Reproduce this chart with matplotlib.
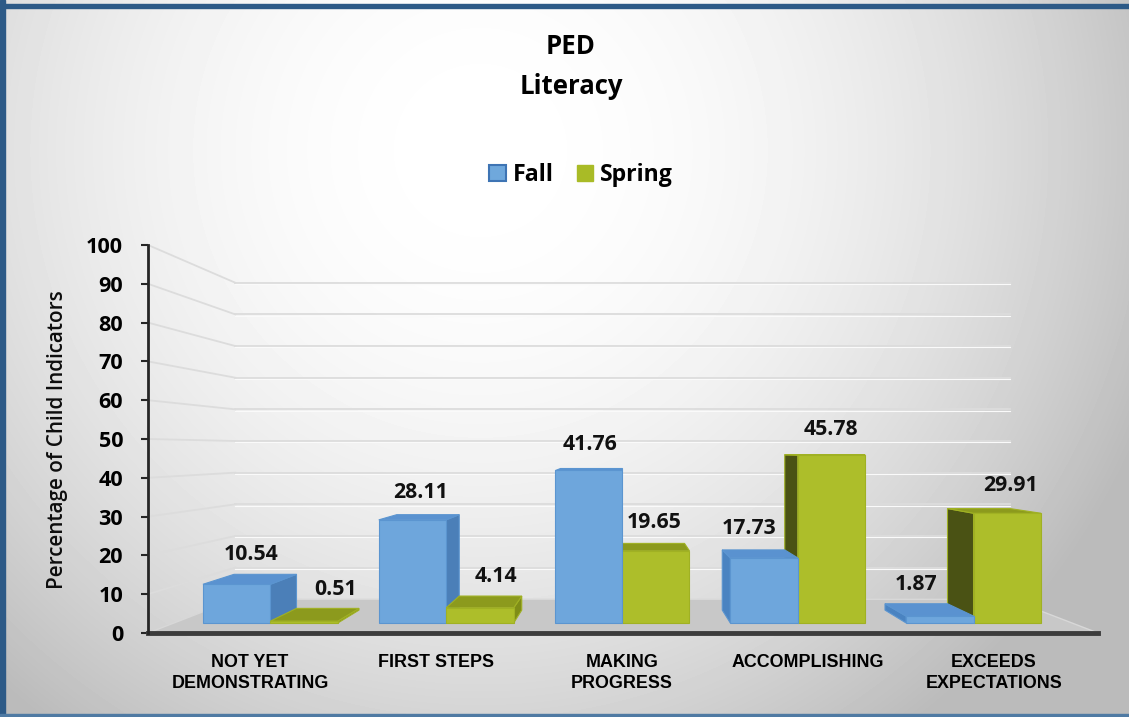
import os
import numpy as np
import matplotlib
matplotlib.use('Agg')
import matplotlib.pyplot as plt
from matplotlib import font_manager as fm
from matplotlib.textpath import TextPath
from matplotlib.patches import Polygon, Patch, Rectangle

# data
categories = ["NOT YET\nDEMONSTRATING", "FIRST STEPS", "MAKING\nPROGRESS",
              "ACCOMPLISHING", "EXCEEDS\nEXPECTATIONS"]
fall = [10.54, 28.11, 41.76, 17.73, 1.87]
spring = [0.51, 4.14, 19.65, 45.78, 29.91]
yticks = list(range(0, 101, 10))

# small label nudges (pixels) to follow the original placement
fall_dx = [0, 0, 0, -10, -12]
spring_dx = [20, 11, 0, 7, 18]

DPI = 100


def bold_file(family):
    try:
        p = fm.findfont(fm.FontProperties(family=family, weight='bold'),
                        fallback_to_default=False)
    except Exception:
        return None
    return p if 'bold' in os.path.basename(p).lower() else None


# pick a sans family that really has a bold face
for fam in ['Open Sans', 'Lato', 'Noto Sans', 'Roboto', 'DejaVu Sans']:
    p = bold_file(fam)
    if p:
        BOLD = fm.FontProperties(fname=p)
        FAM = fam
        break

for fam in ['Liberation Sans Narrow', 'Liberation Sans', 'DejaVu Sans']:
    p = bold_file(fam)
    if p:
        NARROW = fm.FontProperties(fname=p)
        break


def fit(base, text, width_px):
    # font size (pt) that gives the wanted ink width
    fp = base.copy()
    fp.set_size(100)
    w = TextPath((0, 0), text, prop=fp).get_extents().width * DPI / 72
    fp.set_size(100 * width_px / w)
    return fp


W, H = 1129, 717
fig = plt.figure(figsize=(W / DPI, H / DPI), dpi=DPI)

# background gradient + frame
bg = fig.add_axes([0, 0, 1, 1], zorder=-10)
yy, xx = np.mgrid[0:H, 0:W]
r = np.hypot(xx - 480, yy - 150)
g = 1 - 0.22 * np.clip(r / 650, 0, 1.1) ** 2
bg.imshow(g, cmap='gray', vmin=0, vmax=1, extent=(0, W, H, 0), aspect='auto')
bg.set_xlim(0, W)
bg.set_ylim(H, 0)
bg.axis('off')
frame = '#2d5a87'
bg.add_patch(Rectangle((0, 0), 5, H, color=frame))
bg.add_patch(Rectangle((0, 4), W, 3.5, color=frame))
bg.add_patch(Rectangle((0, H - 3), W, 3, color='#4f7aa3'))

# main axes: category i sits at pixel 250 + 186*i on the front plane
ax = fig.add_axes([148 / W, 1 - 633 / H, 950 / W, 388 / H])
ax.patch.set_visible(False)
XL, XR = (148 - 250) / 186, (1098 - 250) / 186
ax.set_xlim(XL, XR)
ax.set_ylim(0, 100)

# pseudo 3d perspective
VX, VY = 2.0, 47.2
S_FRONT, S_BACK, S_WALL = 0.945, 0.875, 0.816
BAR_W = 0.384


def proj(x, y, s):
    return (VX + (x - VX) * s, VY + (y - VY) * s)


# walls: gridlines on side wall and back wall
for v in yticks[1:]:
    bx, by = proj(XL, v, S_WALL)
    ex, ey = proj(XR, v, S_WALL)
    ax.plot([XL, bx], [v, by], color='#dcdcdc', lw=1.3, zorder=1, clip_on=False)
    ax.plot([bx, ex], [by, ey], color='#dcdcdc', lw=1.3, zorder=1, clip_on=False)
    ax.plot([bx, ex], [by - 0.35, ey - 0.35], color='#fafafa', lw=0.8, zorder=1, clip_on=False)

# floor
floor = [proj(XL, 0, 1), proj(XR, 0, 1), proj(XR, 0, S_WALL), proj(XL, 0, S_WALL)]
ax.add_patch(Polygon(floor, closed=True, fc='#c8c8c8', ec='#d8d8d8', lw=1, zorder=1.5))

styles = {
    'fall': dict(front='#6ea6dc', top='#5a92d0', right='#4b7fb8', left='#4a83c1', edge='#5b95d0'),
    'spring': dict(front='#adbe2a', top='#8c9a1d', right='#7f8d17', left='#4a5214', edge='#a0b123'),
}

val_fp = fit(BOLD, '10.54', 53)

bars = []
for i in range(len(categories)):
    bars.append(('fall', i - BAR_W, i, fall[i], fall_dx[i]))
    bars.append(('spring', i, i + BAR_W, spring[i], spring_dx[i]))
bars.sort(key=lambda b: -abs((b[1] + b[2]) / 2 - VX))

z = 3
for series, x0, x1, v, dx in bars:
    st = styles[series]
    f = [proj(x0, 0, S_FRONT), proj(x1, 0, S_FRONT), proj(x1, v, S_FRONT), proj(x0, v, S_FRONT)]
    faces = []
    if x1 < VX - 1e-9:
        faces.append(([proj(x1, 0, S_FRONT), proj(x1, 0, S_BACK), proj(x1, v, S_BACK),
                       proj(x1, v, S_FRONT)], st['right']))
    if x0 > VX + 1e-9:
        faces.append(([proj(x0, 0, S_FRONT), proj(x0, 0, S_BACK), proj(x0, v, S_BACK),
                       proj(x0, v, S_FRONT)], st['left']))
    if v < VY:
        faces.append(([proj(x0, v, S_FRONT), proj(x1, v, S_FRONT), proj(x1, v, S_BACK),
                       proj(x0, v, S_BACK)], st['top']))
    faces.append((f, st['front']))
    for pts, c in faces:
        ax.add_patch(Polygon(pts, closed=True, fc=c, ec=st['edge'], lw=0.8, zorder=z))
        z += 0.01
    z += 0.1
    cx = (x0 + x1) / 2
    ax.annotate(f'{v:.2f}', xy=proj(cx, v, (S_FRONT + S_BACK) / 2), xytext=(dx, 25),
                textcoords='offset pixels', ha='center', va='center',
                fontproperties=val_fp, color='#111111', zorder=20)

# axes styling
for side in ['top', 'right']:
    ax.spines[side].set_visible(False)
ax.spines['left'].set_color('#262626')
ax.spines['left'].set_linewidth(2)
ax.spines['bottom'].set_color('#3c3c3c')
ax.spines['bottom'].set_linewidth(3.5)
ax.spines['left'].set_zorder(30)
ax.spines['bottom'].set_zorder(2)

ax.set_yticks(yticks)
ax.tick_params(axis='y', length=5, width=1.5, color='#262626', pad=13)
tick_fp = fit(BOLD, '100', 35)
for lab in ax.get_yticklabels():
    lab.set_fontproperties(tick_fp)

ax.set_xticks(range(len(categories)), categories)
ax.tick_params(axis='x', length=0, pad=15)
cat_fp = fit(NARROW, 'DEMONSTRATING', 154)
for lab in ax.get_xticklabels():
    lab.set_fontproperties(cat_fp)
    lab.set_linespacing(1.3)

ylab_fp = fit(fm.FontProperties(family=FAM, weight='semibold'),
              'Percentage of Child Indicators', 295)
fig.text(57 / W, 1 - 440 / H, 'Percentage of Child Indicators', rotation=90,
         ha='center', va='center', fontproperties=ylab_fp, color='#0d0d0d')

title_fp = fit(BOLD, 'Literacy', 101)
fig.text(571 / W, 1 - 47 / H, 'PED', ha='center', va='center', fontproperties=title_fp)
fig.text(571 / W, 1 - 86 / H, 'Literacy', ha='center', va='center', fontproperties=title_fp)

handles = [Patch(fc='#6fa8dc', ec='#3e74b4', lw=1.5, label='Fall'),
           Patch(fc='#a9bb26', ec='#a9bb26', label='Spring')]
fig.legend(handles=handles, loc='center', bbox_to_anchor=(581 / W, 1 - 175 / H), ncol=2,
           frameon=False, prop=fit(BOLD, 'Spring', 72), handlelength=0.7, handleheight=0.7,
           handletextpad=0.3, columnspacing=1.0)

fig.savefig('out.png', dpi=DPI)
